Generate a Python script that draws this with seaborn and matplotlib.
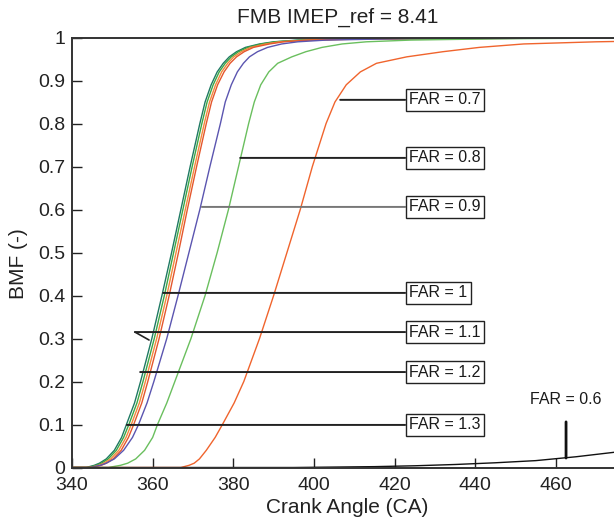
import matplotlib
matplotlib.use("Agg")
import matplotlib.pyplot as plt
import numpy as np
import pandas as pd
import seaborn as sns

# ---------------- data ----------------
bmf_levels = [0, 0, 0.005, 0.01, 0.02, 0.04, 0.07, 0.1, 0.15, 0.2,
              0.3, 0.4, 0.5, 0.6, 0.7, 0.8, 0.85, 0.89, 0.92, 0.94,
              0.955, 0.967, 0.977, 0.985, 0.99, 0.994, 0.997, 0.999]

ca_far13 = [340, 343.5, 345.5, 346.8, 348.5, 350.5, 352.3, 353.5, 355.5, 357.0,
            359.8, 362.3, 364.7, 367.0, 369.3, 371.7, 373.0, 374.5, 376.0, 377.5,
            379.0, 380.8, 383.0, 386.5, 390.0, 396.0, 410.0, 480.0]
ca_far12 = [340, 344.0, 346.0, 347.3, 349.0, 351.0, 352.8, 354.1, 356.1, 357.6,
            360.4, 362.9, 365.2, 367.5, 369.8, 372.2, 373.5, 375.0, 376.5, 378.0,
            379.5, 381.3, 383.6, 387.0, 390.5, 397.0, 412.0, 480.0]
ca_far11 = [340, 344.5, 346.6, 347.9, 349.6, 351.6, 353.4, 354.7, 356.7, 358.2,
            361.0, 363.5, 365.8, 368.1, 370.4, 372.8, 374.1, 375.6, 377.1, 378.6,
            380.1, 382.0, 384.3, 388.0, 391.5, 398.0, 414.0, 480.0]
ca_far10 = [340, 345.0, 347.2, 348.5, 350.2, 352.2, 354.0, 355.3, 357.3, 358.8,
            361.6, 364.1, 366.4, 368.6, 370.9, 373.3, 374.6, 376.1, 377.7, 379.2,
            380.8, 382.7, 385.0, 389.0, 392.5, 399.0, 416.0, 480.0]
ca_far09 = [340, 344.5, 347.0, 348.5, 350.5, 352.8, 355.0, 356.5, 358.6, 360.3,
            363.5, 366.3, 369.0, 371.7, 374.2, 376.8, 378.0, 379.5, 381.0, 382.5,
            384.0, 386.0, 388.5, 392.0, 396.0, 403.0, 420.0, 480.0]
ca_far08 = [340, 349.0, 352.0, 353.8, 355.8, 358.0, 360.0, 361.2, 363.5, 365.5,
            369.5, 373.0, 376.0, 378.8, 381.3, 383.8, 385.2, 386.8, 388.8, 391.0,
            394.5, 398.0, 402.0, 407.0, 413.0, 424.0, 445.0, 480.0]
ca_far07 = [340, 367.0, 369.0, 370.3, 371.6, 373.3, 375.5, 377.3, 380.2, 382.6,
            386.5, 390.0, 393.3, 396.6, 399.6, 403.0, 405.2, 408.0, 411.5, 415.5,
            423.0, 432.0, 441.0, 452.0, 470.0, 495.0, 520.0, 540.0]

ca_far06 = [340, 395, 405, 415, 425, 435, 445, 455, 465, 475, 480]
bmf_far06 = [0, 0, 0.001, 0.002, 0.004, 0.007, 0.011, 0.016, 0.025, 0.036, 0.043]

series_names = ["FAR = 1.3", "FAR = 1.2", "FAR = 1.1", "FAR = 1", "FAR = 0.9", "FAR = 0.8", "FAR = 0.7"]
series_ca = [ca_far13, ca_far12, ca_far11, ca_far10, ca_far09, ca_far08, ca_far07]
series_colors = ["#1f7a63", "#3da645", "#f28a3c", "#e4572e", "#5b55b0", "#6abf5e", "#f0642d"]

# annotation labels: (text, bmf level of box, crank angle where leader meets the curve)
ann_labels = ["FAR = 0.7", "FAR = 0.8", "FAR = 0.9", "FAR = 1", "FAR = 1.1", "FAR = 1.2", "FAR = 1.3"]
ann_bmf = [0.855, 0.720, 0.606, 0.406, 0.315, 0.222, 0.099]
ann_ca = [406.5, 381.7, 372.2, 362.6, 355.6, 356.9, 353.6]
ann_colors = ["#222222", "#222222", "#777777", "#222222", "#222222", "#222222", "#222222"]

x_ticks = [340, 360, 380, 400, 420, 440, 460]
y_ticks = [0, 0.1, 0.2, 0.3, 0.4, 0.5, 0.6, 0.7, 0.8, 0.9, 1]
y_ticklabels = ["0", "0.1", "0.2", "0.3", "0.4", "0.5", "0.6", "0.7", "0.8", "0.9", "1"]

# ---------------- build long table ----------------
rows = []
for name, ca in zip(series_names, series_ca):
    for c, b in zip(ca, bmf_levels):
        rows.append({"CA": c, "BMF": b, "FAR": name})
df = pd.DataFrame(rows)
df06 = pd.DataFrame({"CA": ca_far06, "BMF": bmf_far06, "FAR": "FAR = 0.6"})

# ---------------- plot ----------------
sns.set_style("white")
plt.rcParams["font.family"] = ["Liberation Sans", "DejaVu Sans"]

fig = plt.figure(figsize=(6.14, 5.24), dpi=100)
px_per_ca = 4.033
ax_w_px = 140 * px_per_ca
ax = fig.add_axes([72 / 614, (524 - 467.5) / 524, ax_w_px / 614, 430 / 524])

sns.lineplot(data=df, x="CA", y="BMF", hue="FAR", palette=dict(zip(series_names, series_colors)),
             estimator=None, sort=False, units="FAR", linewidth=1.0, legend=False, ax=ax)
sns.lineplot(data=df06, x="CA", y="BMF", color="#111111", estimator=None, sort=False,
             linewidth=1.0, legend=False, ax=ax)

box_left = 422.6
for txt, yb, xc, col in zip(ann_labels, ann_bmf, ann_ca, ann_colors):
    ax.annotate(txt, xy=(xc, yb), xytext=(box_left + 1.0, yb), ha="left", va="center",
                fontsize=11.5, color="#1a1a1a",
                bbox=dict(boxstyle="square,pad=0.22", fc="white", ec="#222222", lw=1.0),
                arrowprops=dict(arrowstyle="-", color=col, lw=1.4, shrinkA=0, shrinkB=0))
# small kink at the end of the FAR = 1.1 leader
ax.annotate("", xy=(359.1, 0.2965), xytext=(355.6, 0.315),
            arrowprops=dict(arrowstyle="-", color="#222222", lw=1.2, shrinkA=0, shrinkB=0))

# FAR = 0.6 label with vertical marker
ax.annotate("FAR = 0.6", xy=(462.5, 0.022), xytext=(462.5, 0.157), ha="center", va="center",
            fontsize=11.5, color="#1a1a1a",
            arrowprops=dict(arrowstyle="-", color="#111111", lw=2.0, shrinkA=8, shrinkB=0))

ax.set_xlim(340, 480)
ax.set_ylim(0, 1)
ax.set_xticks(x_ticks)
ax.set_xticklabels([str(v) for v in x_ticks])
ax.set_yticks(y_ticks)
ax.set_yticklabels(y_ticklabels)
ax.tick_params(direction="in", length=7, width=1.0, labelsize=14, colors="#222222",
               top=False, right=False, bottom=True, left=True)
ax.tick_params(axis="x", pad=7)
ax.tick_params(axis="y", pad=5)

for s in ax.spines.values():
    s.set_visible(True)
    s.set_color("#333333")
    s.set_linewidth(1.4)

ax.set_xlabel("Crank Angle (CA)", fontsize=15, color="#222222")
ax.set_ylabel("BMF (-)", fontsize=15, color="#222222")
ax.xaxis.set_label_coords((347 - 72) / ax_w_px, -0.072)
ax.yaxis.set_label_coords(-(72 - 28) / ax_w_px, 0.475)

fig.text(338 / 614, 1 - 17 / 524, "FMB IMEP_ref = 8.41", ha="center", va="center",
         fontsize=15, color="#222222")

fig.savefig("out.png", dpi=100)
